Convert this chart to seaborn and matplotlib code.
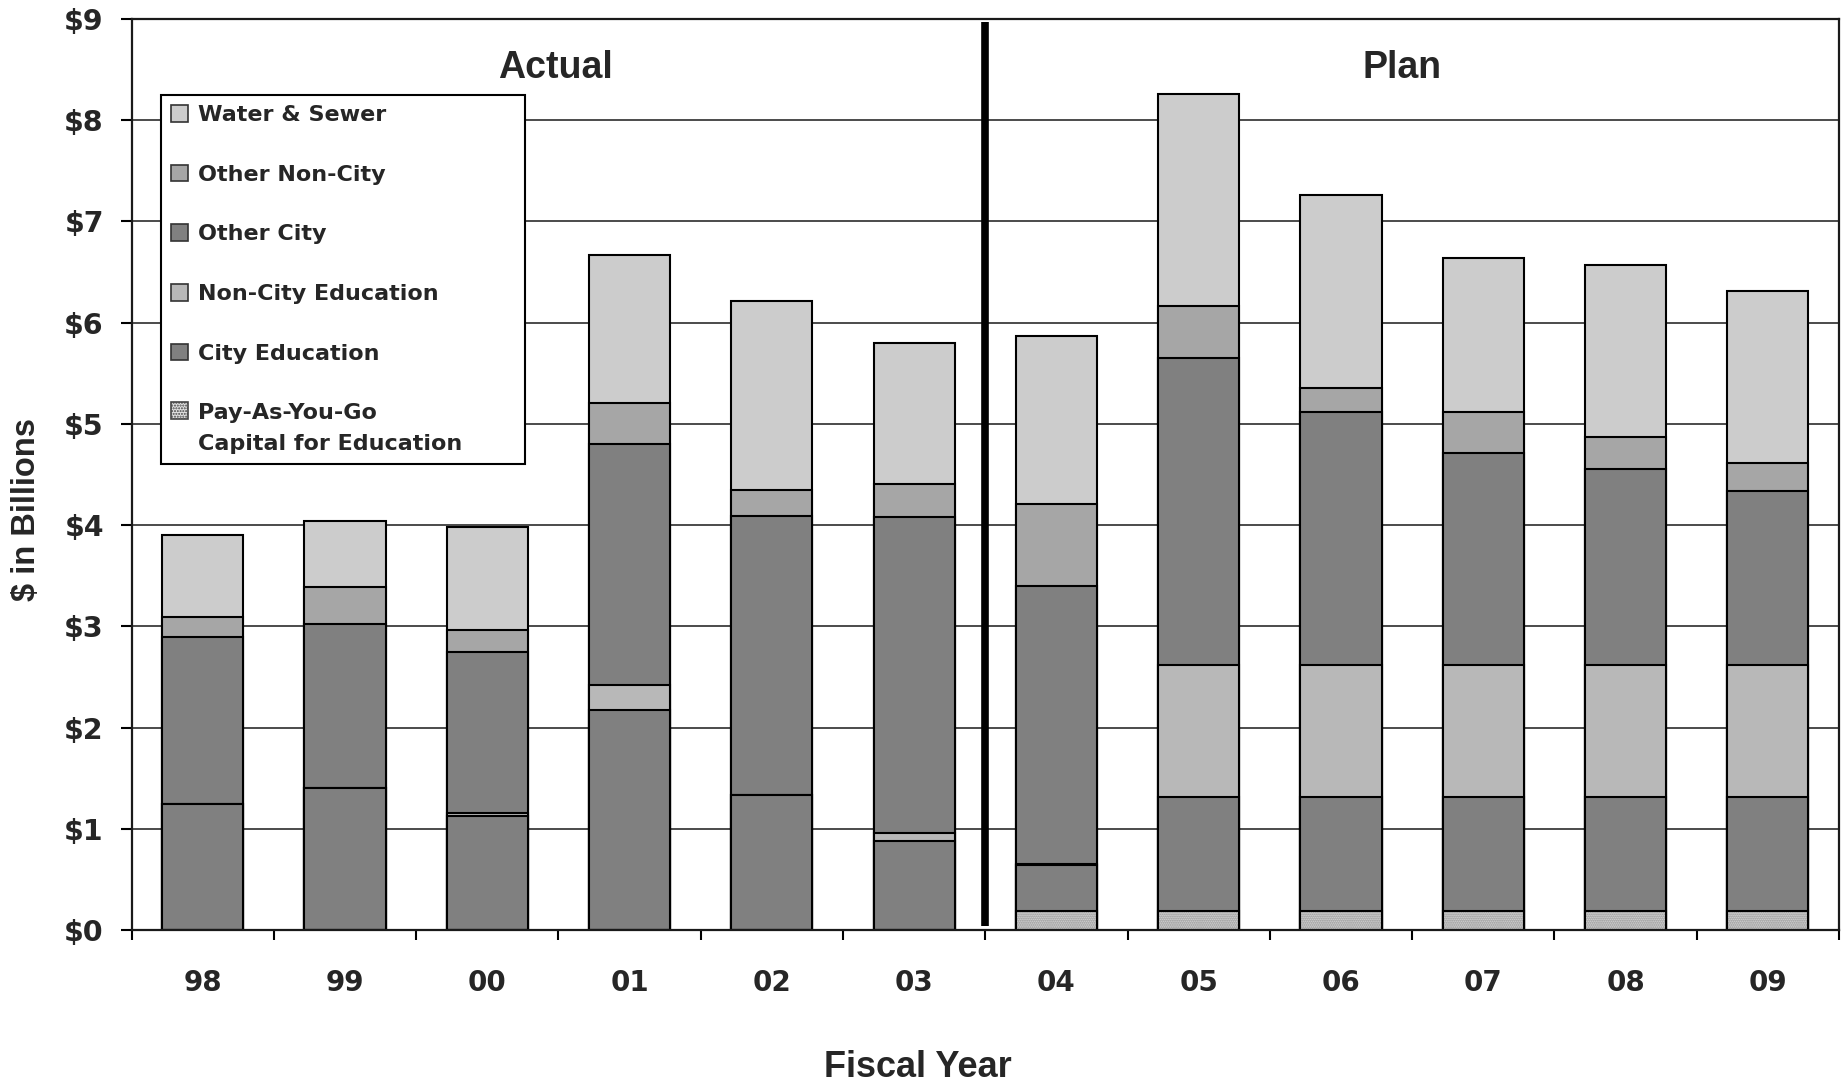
import numpy as np
import matplotlib
matplotlib.use("Agg")
import matplotlib.pyplot as plt
import seaborn as sns
from matplotlib.patches import Patch, Rectangle
from matplotlib.legend_handler import HandlerPatch

# Fiscal years and capital commitments by category ($ billions)
years = ["98", "99", "00", "01", "02", "03", "04", "05", "06", "07", "08", "09"]
pay_go = [0, 0, 0, 0, 0, 0, 0.19, 0.19, 0.19, 0.19, 0.19, 0.19]
city_ed = [1.24, 1.40, 1.13, 2.17, 1.33, 0.88, 0.45, 1.12, 1.12, 1.12, 1.12, 1.12]
non_city_ed = [0, 0, 0.03, 0.25, 0, 0.08, 0.01, 1.31, 1.31, 1.31, 1.31, 1.31]
other_city = [1.65, 1.62, 1.59, 2.38, 2.76, 3.12, 2.75, 3.03, 2.50, 2.09, 1.93, 1.72]
other_non_city = [0.20, 0.37, 0.21, 0.41, 0.26, 0.33, 0.81, 0.51, 0.23, 0.41, 0.32, 0.27]
water_sewer = [0.81, 0.65, 1.02, 1.46, 1.86, 1.39, 1.66, 2.10, 1.91, 1.52, 1.70, 1.70]

layer_names = ["Pay-As-You-Go\nCapital for Education", "City Education",
               "Non-City Education", "Other City", "Other Non-City", "Water & Sewer"]
layer_values = [pay_go, city_ed, non_city_ed, other_city, other_non_city, water_sewer]
layer_colors = ["#e2e2e2", "#808080", "#b8b8b8", "#808080", "#a6a6a6", "#cccccc"]

sns.set_style("ticks")
plt.rcParams["font.family"] = ["DejaVu Sans"]
plt.rcParams["hatch.linewidth"] = 1.0

fig = plt.figure(figsize=(18.43, 10.82), dpi=100)
ax = fig.add_axes([131.6 / 1843, 1 - 930 / 1082, (1839 - 131.6) / 1843, (930 - 19) / 1082])

# stacked bars: draw cumulative totals from the top layer down
cum = np.cumsum(np.array(layer_values), axis=0)
bar_w = 0.57
for i in range(len(layer_values) - 1, 0, -1):
    sns.barplot(x=years, y=cum[i], order=years, color=layer_colors[i], saturation=1,
                edgecolor="black", linewidth=1.5, width=bar_w, errorbar=None, ax=ax)
# pay-as-you-go base: dotted fill plus outline
sns.barplot(x=years, y=cum[0], order=years, color=layer_colors[0], saturation=1,
            edgecolor="#858585", linewidth=0, hatch="........", width=bar_w,
            errorbar=None, ax=ax)
sns.barplot(x=years, y=cum[0], order=years, color="black", fill=False,
            linewidth=1.5, width=bar_w, errorbar=None, ax=ax)

ax.set_xlim(-0.5, 11.5)
ax.set_ylim(0, 9)
ax.set_axisbelow(True)
ax.yaxis.grid(True, color="#1a1a1a", linewidth=1.1)
ax.xaxis.grid(False)

# x: tick marks between years, labels centred on bars
ax.set_xticks(np.arange(-0.5, 12, 1))
ax.set_xticklabels([])
ax.set_xticks(np.arange(12), minor=True)
ax.set_xticklabels(years, minor=True, fontsize=20, fontweight="bold")
ax.tick_params(axis="x", which="major", length=7.5, width=1.5, color="black", direction="out")
ax.tick_params(axis="x", which="minor", length=0, pad=28)
ax.set_yticks(np.arange(0, 10, 1))
ax.set_yticklabels([f"${v}" for v in range(10)], fontsize=20.5, fontweight="bold")
ax.tick_params(axis="y", length=8, width=1.5, color="black", pad=12)
ax.set_xlabel("")
ax.set_ylabel("")

for s in ax.spines.values():
    s.set_visible(True)
    s.set_color("#1a1a1a")
    s.set_linewidth(1.6)

# actual / plan divider
ax.vlines(5.5, 0.04, 8.97, color="black", linewidth=5.5, zorder=5)
ax.text(2.48, 8.52, "Actual", ha="center", va="center", fontsize=27,
        fontweight="bold", family=["Liberation Sans", "DejaVu Sans"])
ax.text(8.43, 8.52, "Plan", ha="center", va="center", fontsize=27,
        fontweight="bold", family=["Liberation Sans", "DejaVu Sans"])

# legend, top layer first
leg_size = 16
leg_linespacing = 1.7


def first_line_patch(legend, orig_handle, xdescent, ydescent, width, height, fontsize):
    # keep the swatch level with the first line of a two-line label
    shift = 0.5 * leg_linespacing * fontsize
    return Rectangle((-xdescent, -ydescent + shift), width, height)


handles = []
handler_map = {}
for name, col in zip(layer_names[::-1], layer_colors[::-1]):
    if name.startswith("Pay"):
        hp = Patch(facecolor=col, edgecolor="#444444", hatch="......",
                   linewidth=1.2, label=name)
        handler_map[hp] = HandlerPatch(patch_func=first_line_patch)
    else:
        hp = Patch(facecolor=col, edgecolor="#333333", linewidth=1.2, label=name)
    handles.append(hp)

x0 = (161 - 131.6) / (1839 - 131.6)
y1 = (930 - 95) / (930 - 19)
w = (525 - 161) / (1839 - 131.6)
h = (461 - 95) / (930 - 19)
leg = ax.legend(handles=handles, handler_map=handler_map, loc="upper left",
                bbox_to_anchor=(x0, y1 - h, w, h),
                mode="expand", borderaxespad=0, fancybox=False, framealpha=1,
                edgecolor="black", prop={"weight": "bold", "size": leg_size},
                handlelength=0.78, handleheight=0.78, handletextpad=0.45,
                labelspacing=1.78, borderpad=0.45)
leg.get_frame().set_linewidth(1.5)
for t in leg.get_texts():
    t.set_linespacing(leg_linespacing)

fig.text(27 / 1843, 1 - 509 / 1082, "$ in Billions", rotation=90, ha="center", va="center",
         fontsize=23.5, fontweight="bold", family=["Liberation Sans", "DejaVu Sans"])
fig.text(918 / 1843, 1 - 1067.5 / 1082, "Fiscal Year", ha="center", va="center",
         fontsize=26, fontweight="bold", family=["Liberation Sans", "DejaVu Sans"])

fig.savefig("out.png", dpi=100)
